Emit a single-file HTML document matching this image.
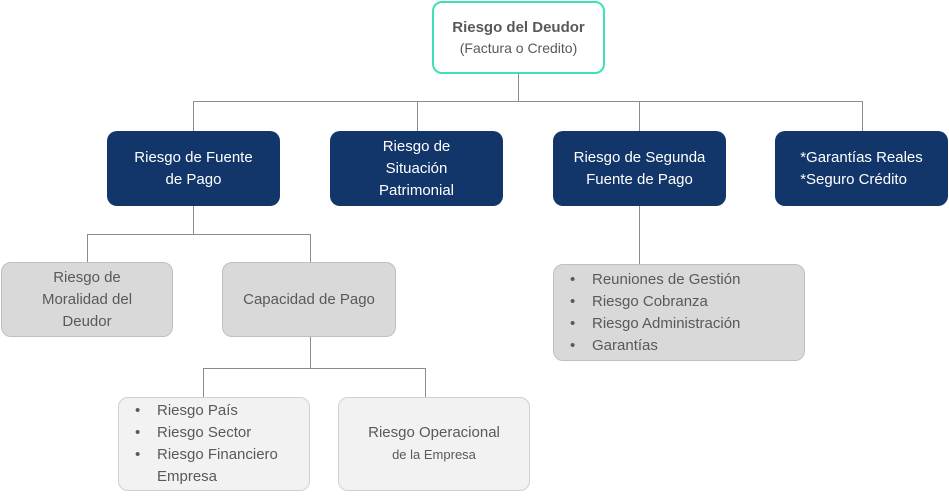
<!DOCTYPE html>
<html><head><meta charset="utf-8"><style>
body{margin:0;width:949px;height:500px;background:#fff;position:relative;overflow:hidden;font-family:"Liberation Sans",sans-serif}
.b{position:absolute;box-sizing:border-box;border-radius:10px;display:flex;align-items:center;justify-content:center;text-align:center;font-size:15px;line-height:22px}
.n{background:#13366a;color:#fff}
.g{background:#d9d9d9;border:1px solid #bfbfbf;color:#595959}
.l{background:#f2f2f2;border:1px solid #d0d0d0;color:#595959}
.ln{position:absolute;background:#8c8c8c}
ul{margin:0;padding:0 0 0 38px;text-align:left;list-style:none}
li{position:relative}
li:before{content:"•";position:absolute;left:-22px}
</style></head><body>
<div class="ln" style="left:518px;top:74px;width:1px;height:27px"></div>
<div class="ln" style="left:193px;top:101px;width:670px;height:1px"></div>
<div class="ln" style="left:193px;top:101px;width:1px;height:30px"></div>
<div class="ln" style="left:417px;top:101px;width:1px;height:30px"></div>
<div class="ln" style="left:639px;top:101px;width:1px;height:30px"></div>
<div class="ln" style="left:862px;top:101px;width:1px;height:30px"></div>
<div class="ln" style="left:193px;top:206px;width:1px;height:28px"></div>
<div class="ln" style="left:87px;top:234px;width:223px;height:1px"></div>
<div class="ln" style="left:87px;top:234px;width:1px;height:28px"></div>
<div class="ln" style="left:310px;top:234px;width:1px;height:28px"></div>
<div class="ln" style="left:639px;top:206px;width:1px;height:58px"></div>
<div class="ln" style="left:310px;top:337px;width:1px;height:31px"></div>
<div class="ln" style="left:203px;top:368px;width:223px;height:1px"></div>
<div class="ln" style="left:203px;top:368px;width:1px;height:29px"></div>
<div class="ln" style="left:425px;top:368px;width:1px;height:29px"></div>

<div class="b" style="left:432px;top:1px;width:173px;height:73px;border:2px solid #3ee0b8;background:#fff;color:#595959;flex-direction:column;line-height:21px"><b style="font-size:15px">Riesgo del Deudor</b><span style="font-size:14px">(Factura o Credito)</span></div>

<div class="b n" style="left:107px;top:131px;width:173px;height:75px">Riesgo de Fuente<br>de Pago</div>
<div class="b n" style="left:330px;top:131px;width:173px;height:75px">Riesgo de<br>Situación<br>Patrimonial</div>
<div class="b n" style="left:553px;top:131px;width:173px;height:75px">Riesgo de Segunda<br>Fuente de Pago</div>
<div class="b n" style="left:775px;top:131px;width:173px;height:75px;text-align:left">*Garantías Reales<br>*Seguro Crédito</div>

<div class="b g" style="left:1px;top:262px;width:172px;height:75px">Riesgo de<br>Moralidad del<br>Deudor</div>
<div class="b g" style="left:222px;top:262px;width:174px;height:75px">Capacidad de Pago</div>
<div class="b g" style="left:553px;top:264px;width:252px;height:97px;justify-content:flex-start"><ul><li>Reuniones de Gestión</li><li>Riesgo Cobranza</li><li>Riesgo Administración</li><li>Garantías</li></ul></div>

<div class="b l" style="left:118px;top:397px;width:192px;height:94px;justify-content:flex-start"><ul><li>Riesgo País</li><li>Riesgo Sector</li><li>Riesgo Financiero<br>Empresa</li></ul></div>
<div class="b l" style="left:338px;top:397px;width:192px;height:94px;flex-direction:column"><span>Riesgo Operacional</span><span style="font-size:13px">de la Empresa</span></div>
</body></html>
